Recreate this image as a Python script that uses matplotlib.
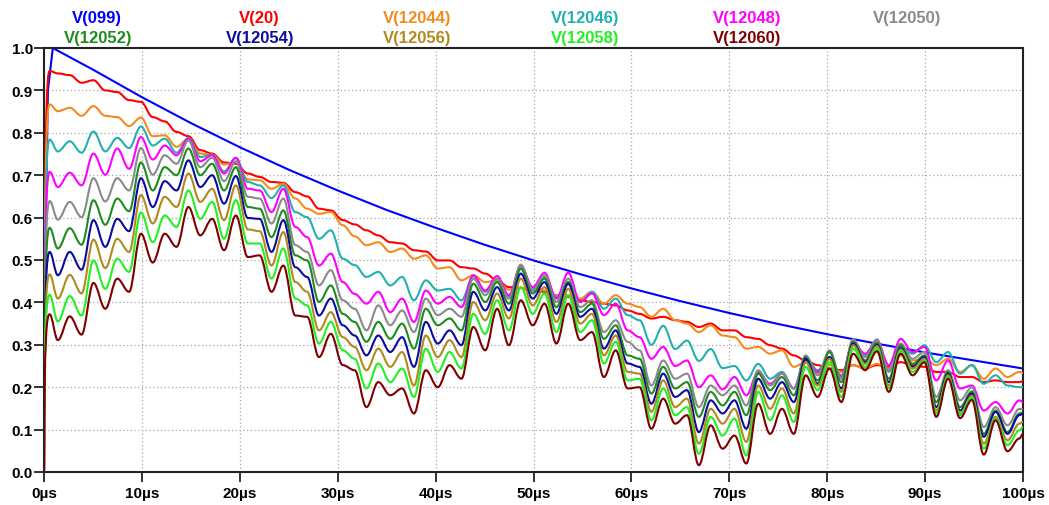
import matplotlib
matplotlib.use("Agg")
import matplotlib.pyplot as plt
from matplotlib.path import Path
from matplotlib.patches import PathPatch

# ---- data ----
# time of each extremum of the shared ringing (µs)
T = [0, 0.58, 1.41, 2.63, 3.84, 5.05, 6.26, 7.48, 8.69, 9.9, 11.11, 12.33, 13.54, 14.75,
     15.96, 17.18, 18.39, 19.6, 20.82, 22.03, 23.24, 24.45, 25.67, 26.88, 28.09, 29.3,
     30.52, 31.73, 32.94, 34.15, 35.37, 36.58, 37.79, 39.0, 40.22, 41.43, 42.64, 43.85,
     45.07, 46.28, 47.49, 48.7, 49.92, 51.13, 52.34, 53.55, 54.77, 55.98, 57.19, 58.4,
     59.62, 60.83, 62.04, 63.25, 64.47, 65.68, 66.89, 68.1, 69.32, 70.53, 71.74, 72.95,
     74.17, 75.38, 76.59, 77.8, 79.02, 80.23, 81.44, 82.65, 83.87, 85.08, 86.29, 87.5,
     88.72, 89.93, 91.14, 92.35, 93.57, 94.78, 95.99, 97.2, 98.42, 99.63, 100]

v20 = [0, 0.946, 0.940, 0.936, 0.918, 0.924, 0.900, 0.896, 0.877, 0.873, 0.837, 0.827, 0.802, 0.792,
       0.759, 0.751, 0.730, 0.727, 0.704, 0.696, 0.684, 0.682, 0.660, 0.650, 0.621, 0.617,
       0.594, 0.584, 0.570, 0.558, 0.542, 0.539, 0.523, 0.520, 0.499, 0.499, 0.483, 0.480,
       0.468, 0.452, 0.436, 0.434, 0.428, 0.425, 0.417, 0.413, 0.405, 0.401, 0.397, 0.393,
       0.381, 0.373, 0.362, 0.366, 0.358, 0.354, 0.342, 0.350, 0.334, 0.334, 0.318, 0.314,
       0.299, 0.291, 0.275, 0.263, 0.252, 0.244, 0.240, 0.252, 0.244, 0.252, 0.248, 0.259,
       0.252, 0.248, 0.236, 0.236, 0.224, 0.224, 0.212, 0.216, 0.212, 0.212, 0.214]

v12044 = [0, 0.867, 0.851, 0.859, 0.840, 0.863, 0.840, 0.837, 0.816, 0.836, 0.792, 0.794, 0.767, 0.786,
          0.751, 0.748, 0.725, 0.731, 0.690, 0.688, 0.668, 0.680, 0.645, 0.621, 0.609, 0.613,
          0.582, 0.556, 0.535, 0.542, 0.519, 0.527, 0.503, 0.511, 0.480, 0.483, 0.452, 0.464,
          0.448, 0.452, 0.430, 0.434, 0.436, 0.428, 0.417, 0.417, 0.409, 0.425, 0.397, 0.417,
          0.397, 0.389, 0.366, 0.385, 0.358, 0.350, 0.330, 0.346, 0.322, 0.318, 0.291, 0.295,
          0.279, 0.287, 0.248, 0.259, 0.232, 0.252, 0.236, 0.252, 0.244, 0.255, 0.244, 0.275,
          0.263, 0.267, 0.252, 0.267, 0.236, 0.252, 0.220, 0.244, 0.224, 0.236, 0.234]

v12046 = [0, 0.784, 0.756, 0.780, 0.753, 0.803, 0.756, 0.788, 0.764, 0.815, 0.770, 0.786, 0.753, 0.788,
          0.743, 0.748, 0.709, 0.741, 0.684, 0.676, 0.646, 0.676, 0.613, 0.601, 0.550, 0.570,
          0.503, 0.488, 0.460, 0.472, 0.440, 0.460, 0.405, 0.452, 0.428, 0.432, 0.405, 0.462,
          0.425, 0.456, 0.413, 0.480, 0.432, 0.460, 0.413, 0.448, 0.401, 0.425, 0.385, 0.409,
          0.370, 0.358, 0.300, 0.345, 0.290, 0.310, 0.262, 0.290, 0.245, 0.250, 0.216, 0.255,
          0.220, 0.236, 0.197, 0.271, 0.240, 0.271, 0.228, 0.303, 0.275, 0.303, 0.240, 0.295,
          0.279, 0.299, 0.259, 0.283, 0.232, 0.252, 0.208, 0.228, 0.204, 0.200, 0.200]

v12048 = [0, 0.708, 0.672, 0.706, 0.676, 0.751, 0.701, 0.763, 0.715, 0.790, 0.737, 0.770, 0.747, 0.786,
          0.733, 0.747, 0.704, 0.741, 0.668, 0.664, 0.613, 0.668, 0.578, 0.554, 0.487, 0.515,
          0.448, 0.420, 0.397, 0.425, 0.377, 0.409, 0.354, 0.428, 0.397, 0.413, 0.389, 0.464,
          0.428, 0.462, 0.417, 0.487, 0.436, 0.470, 0.409, 0.470, 0.401, 0.421, 0.370, 0.397,
          0.334, 0.318, 0.267, 0.295, 0.250, 0.263, 0.200, 0.228, 0.195, 0.224, 0.181, 0.236,
          0.208, 0.232, 0.197, 0.267, 0.236, 0.271, 0.224, 0.307, 0.279, 0.311, 0.252, 0.314,
          0.283, 0.295, 0.216, 0.263, 0.197, 0.204, 0.145, 0.165, 0.138, 0.169, 0.165]

v12050 = [0, 0.639, 0.595, 0.637, 0.601, 0.693, 0.638, 0.693, 0.664, 0.764, 0.701, 0.747, 0.727, 0.782,
          0.719, 0.741, 0.686, 0.733, 0.649, 0.645, 0.586, 0.645, 0.535, 0.519, 0.440, 0.476,
          0.405, 0.385, 0.334, 0.393, 0.346, 0.381, 0.330, 0.409, 0.370, 0.385, 0.366, 0.456,
          0.417, 0.456, 0.409, 0.489, 0.428, 0.464, 0.401, 0.456, 0.389, 0.405, 0.330, 0.358,
          0.307, 0.287, 0.204, 0.263, 0.220, 0.232, 0.153, 0.204, 0.181, 0.204, 0.157, 0.240,
          0.204, 0.232, 0.197, 0.275, 0.228, 0.287, 0.220, 0.313, 0.271, 0.313, 0.236, 0.303,
          0.267, 0.283, 0.177, 0.240, 0.169, 0.200, 0.106, 0.153, 0.110, 0.149, 0.148]

v12052 = [0, 0.576, 0.527, 0.575, 0.536, 0.641, 0.583, 0.645, 0.615, 0.730, 0.664, 0.719, 0.700, 0.763,
          0.700, 0.727, 0.664, 0.719, 0.625, 0.621, 0.554, 0.617, 0.511, 0.499, 0.401, 0.440,
          0.373, 0.354, 0.307, 0.354, 0.314, 0.350, 0.291, 0.385, 0.346, 0.362, 0.334, 0.444,
          0.401, 0.448, 0.397, 0.480, 0.421, 0.456, 0.389, 0.448, 0.377, 0.397, 0.314, 0.346,
          0.275, 0.267, 0.185, 0.248, 0.197, 0.212, 0.130, 0.189, 0.157, 0.189, 0.134, 0.232,
          0.193, 0.224, 0.181, 0.271, 0.216, 0.283, 0.212, 0.307, 0.263, 0.305, 0.220, 0.299,
          0.255, 0.275, 0.165, 0.236, 0.153, 0.190, 0.090, 0.145, 0.094, 0.138, 0.140]

v12054 = [0, 0.519, 0.464, 0.519, 0.477, 0.594, 0.531, 0.597, 0.568, 0.693, 0.625, 0.686, 0.664, 0.735,
          0.672, 0.700, 0.633, 0.698, 0.599, 0.597, 0.519, 0.594, 0.483, 0.460, 0.369, 0.409,
          0.346, 0.322, 0.275, 0.322, 0.283, 0.318, 0.248, 0.354, 0.303, 0.334, 0.299, 0.425,
          0.381, 0.436, 0.381, 0.468, 0.409, 0.448, 0.373, 0.444, 0.366, 0.385, 0.291, 0.334,
          0.256, 0.248, 0.161, 0.232, 0.177, 0.193, 0.094, 0.169, 0.138, 0.169, 0.102, 0.220,
          0.173, 0.212, 0.165, 0.267, 0.208, 0.271, 0.197, 0.303, 0.259, 0.300, 0.212, 0.292,
          0.248, 0.271, 0.153, 0.232, 0.145, 0.185, 0.083, 0.142, 0.090, 0.134, 0.138]

v12056 = [0, 0.466, 0.409, 0.465, 0.421, 0.548, 0.481, 0.550, 0.519, 0.653, 0.586, 0.649, 0.625, 0.704,
          0.637, 0.668, 0.594, 0.676, 0.572, 0.568, 0.487, 0.566, 0.448, 0.425, 0.334, 0.377,
          0.318, 0.295, 0.240, 0.291, 0.248, 0.283, 0.204, 0.322, 0.271, 0.311, 0.271, 0.401,
          0.358, 0.421, 0.362, 0.456, 0.393, 0.436, 0.354, 0.432, 0.350, 0.373, 0.275, 0.322,
          0.236, 0.232, 0.142, 0.216, 0.153, 0.173, 0.067, 0.149, 0.114, 0.149, 0.071, 0.204,
          0.149, 0.197, 0.138, 0.259, 0.204, 0.267, 0.189, 0.299, 0.255, 0.297, 0.204, 0.289,
          0.244, 0.267, 0.145, 0.228, 0.138, 0.180, 0.067, 0.130, 0.075, 0.114, 0.118]

v12058 = [0, 0.418, 0.355, 0.415, 0.369, 0.499, 0.432, 0.503, 0.472, 0.612, 0.542, 0.605, 0.578, 0.664,
          0.597, 0.637, 0.550, 0.641, 0.539, 0.539, 0.456, 0.527, 0.409, 0.393, 0.303, 0.354,
          0.287, 0.267, 0.197, 0.256, 0.212, 0.244, 0.177, 0.291, 0.236, 0.283, 0.244, 0.373,
          0.326, 0.405, 0.334, 0.436, 0.373, 0.421, 0.330, 0.417, 0.330, 0.358, 0.256, 0.307,
          0.216, 0.220, 0.122, 0.197, 0.134, 0.153, 0.043, 0.130, 0.086, 0.126, 0.039, 0.189,
          0.122, 0.181, 0.118, 0.248, 0.193, 0.259, 0.177, 0.291, 0.248, 0.292, 0.198, 0.285,
          0.236, 0.263, 0.138, 0.224, 0.134, 0.175, 0.055, 0.126, 0.063, 0.098, 0.106]

v12060 = [0, 0.372, 0.311, 0.367, 0.324, 0.446, 0.385, 0.456, 0.425, 0.562, 0.494, 0.562, 0.531, 0.625,
          0.558, 0.597, 0.523, 0.605, 0.507, 0.511, 0.425, 0.487, 0.369, 0.366, 0.271, 0.326,
          0.252, 0.240, 0.153, 0.212, 0.181, 0.197, 0.138, 0.240, 0.200, 0.252, 0.220, 0.342,
          0.287, 0.385, 0.299, 0.405, 0.346, 0.397, 0.303, 0.397, 0.311, 0.330, 0.224, 0.287,
          0.197, 0.200, 0.102, 0.173, 0.114, 0.134, 0.016, 0.110, 0.055, 0.086, 0.020, 0.161,
          0.090, 0.149, 0.090, 0.228, 0.177, 0.244, 0.165, 0.279, 0.240, 0.285, 0.189, 0.279,
          0.228, 0.259, 0.130, 0.220, 0.127, 0.170, 0.041, 0.122, 0.049, 0.079, 0.090]

# V(099): smooth decay
T099 = [0, 0.15, 0.4, 0.9, 2.5, 5, 10, 15, 20, 25, 30, 35, 40, 45, 50, 55, 60, 65,
        70, 75, 80, 85, 90, 95, 100]
v099 = [0, 0.55, 0.9, 1.0, 0.980, 0.949, 0.884, 0.823, 0.766, 0.713, 0.664, 0.618, 0.576,
        0.536, 0.499, 0.465, 0.433, 0.403, 0.375, 0.349, 0.325, 0.303, 0.282, 0.263, 0.244]

names = ["V(099)", "V(20)", "V(12044)", "V(12046)", "V(12048)", "V(12050)",
         "V(12052)", "V(12054)", "V(12056)", "V(12058)", "V(12060)"]
colors = ["#0000ff", "#ff0000", "#f28c1c", "#22b0b0", "#ff00ff", "#8a8a8a",
          "#1e8c1e", "#0c0ca0", "#b08a1e", "#22f022", "#800000"]
ringing = [v20, v12044, v12046, v12048, v12050, v12052, v12054, v12056, v12058, v12060]

xticks = [0, 10, 20, 30, 40, 50, 60, 70, 80, 90, 100]
xticklabels = ["0µs", "10µs", "20µs", "30µs", "40µs", "50µs", "60µs", "70µs", "80µs", "90µs", "100µs"]
yticks = [0.0, 0.1, 0.2, 0.3, 0.4, 0.5, 0.6, 0.7, 0.8, 0.9, 1.0]
yticklabels = ["0.0", "0.1", "0.2", "0.3", "0.4", "0.5", "0.6", "0.7", "0.8", "0.9", "1.0"]

# legend label positions (figure pixels) – layout only
leg_pos = [(97, 18), (259, 18), (417, 18), (585, 18), (747, 18), (907, 18),
           (98, 38), (260, 38), (417, 38), (585, 38), (747, 38)]

plt.rcParams['font.family'] = ['Liberation Sans', 'DejaVu Sans']

W, H = 1049, 506
fig = plt.figure(figsize=(W / 100, H / 100), dpi=100)
ax = fig.add_axes([44 / W, 1 - 473 / H, (1023 - 44) / W, (473 - 49) / H])


def ringing_path(t, v):
    verts = [(t[0], v[0])]
    codes = [Path.MOVETO]
    for i in range(len(t) - 1):
        t0, v0, t1, v1 = t[i], v[i], t[i + 1], v[i + 1]
        dt = t1 - t0
        if i == 0:
            c1 = (t0 + 0.05 * dt, v0 + 0.9 * (v1 - v0))
            c2 = (t1 - 0.5 * dt, v1)
        else:
            c1 = (t0 + 0.36 * dt, v0)
            c2 = (t1 - 0.36 * dt, v1)
        verts += [c1, c2, (t1, v1)]
        codes += [Path.CURVE4] * 3
    return Path(verts, codes)


ax.plot(T099, v099, color=colors[0], lw=1.5, zorder=2, solid_joinstyle='round')
for k, vals in enumerate(ringing):
    patch = PathPatch(ringing_path(T, vals), facecolor='none', edgecolor=colors[k + 1],
                      lw=1.5, zorder=3 + k, transform=ax.transData, capstyle='round',
                      joinstyle='round')
    patch.set_clip_path(ax.patch)
    ax.add_patch(patch)

ax.set_xlim(0, 100)
ax.set_ylim(0, 1)
ax.set_xticks(xticks)
ax.set_xticklabels(xticklabels, fontsize=11, fontweight='bold')
ax.set_yticks(yticks)
ax.set_yticklabels(yticklabels, fontsize=11, fontweight='bold')
ax.tick_params(axis='both', direction='out', length=7, width=1.3, color='#222222')
ax.tick_params(axis='y', pad=1)
ax.tick_params(axis='x', pad=3)
ax.grid(True, color='#a8a8a8', linestyle=(0, (1, 2)), linewidth=0.9)
ax.set_axisbelow(True)
for s in ax.spines.values():
    s.set_linewidth(1.5)
    s.set_color('#222222')

for name, col, (px, py) in zip(names, colors, leg_pos):
    fig.text(px / W, 1 - py / H, name, color=col, ha='center', va='center',
             fontsize=12, fontweight='bold')

fig.savefig("out.png", dpi=100)
